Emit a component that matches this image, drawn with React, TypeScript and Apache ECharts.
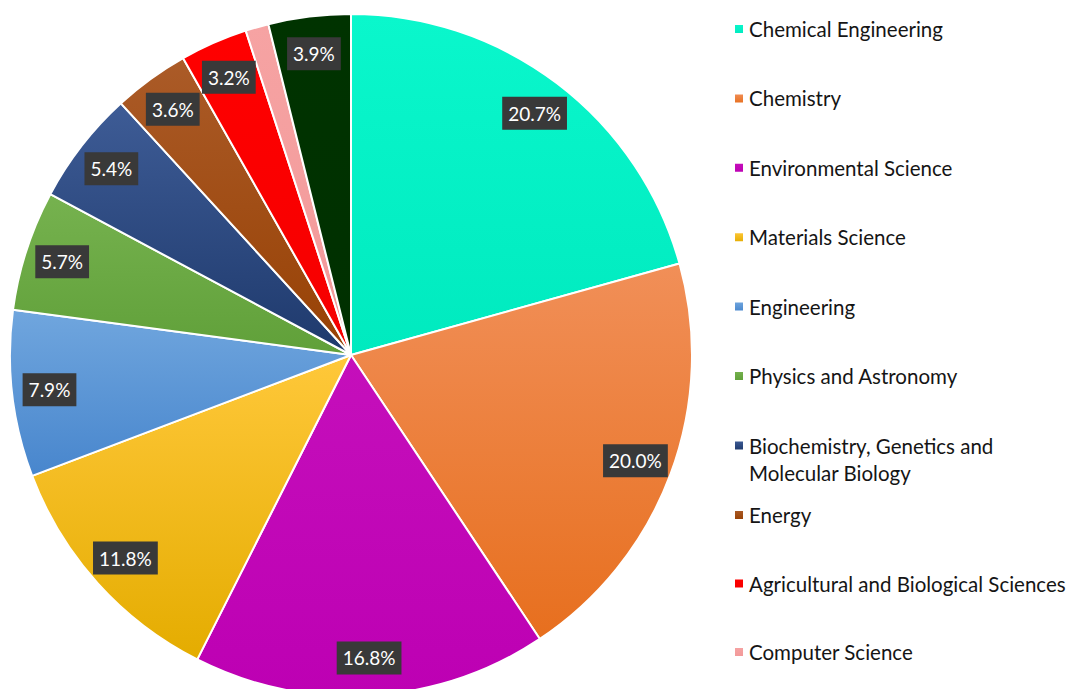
import React, { useEffect, useRef } from "react";
import * as echarts from "echarts";

const categories = [
  "Chemical Engineering",
  "Chemistry",
  "Environmental Science",
  "Materials Science",
  "Engineering",
  "Physics and Astronomy",
  "Biochemistry, Genetics and Molecular Biology",
  "Energy",
  "Agricultural and Biological Sciences",
  "Computer Science",
  "Others",
];
const values = [20.7, 20.0, 16.8, 11.8, 7.9, 5.7, 5.4, 3.6, 3.2, 1.1, 3.9];
const topColors = [
  "#0af7cc", "#f18f58", "#c50fbb", "#ffc83a", "#70a6de", "#76b24f",
  "#3e5c96", "#ab5b28", "#ff0000", "#f6a3a3", "#003300",
];
const bottomColors = [
  "#00eabf", "#e76f1e", "#bd00b3", "#e4ac00", "#4886cd", "#60a039",
  "#1e396c", "#974104", "#f50000", "#f29999", "#003000",
];
const legendA = categories.slice(0, 6);
const legendB = [categories[6]];
const legendC = categories.slice(7, 10);

export default function App() {
  const ref = useRef<HTMLDivElement>(null);
  useEffect(() => {
    document.body.style.margin = "0";
    const chart = echarts.init(ref.current!, undefined, { renderer: "svg" });
    const data = categories.map((name, i) => ({
      name,
      value: values[i],
      itemStyle: {
        color: new echarts.graphic.LinearGradient(0, 0, 0, 1, [
          { offset: 0, color: topColors[i] },
          { offset: 1, color: bottomColors[i] },
        ]),
      },
    }));
    const labelData = categories.map((name, i) => ({ name, value: values[i] }));
    const legendBase = {
      orient: "vertical" as const,
      left: 733,
      padding: 0,
      itemWidth: 10,
      itemHeight: 10,
      itemGap: 42.4,
      icon: "rect",
      textStyle: {
        fontFamily: "Lato",
        fontSize: 20.5,
        lineHeight: 27,
        color: "#151515",
        padding: [0, 0, 0, 0],
      },
      selectedMode: false,
    };
    chart.setOption({
      animation: false,
      backgroundColor: "#ffffff",
      legend: [
        { ...legendBase, top: 15.5, data: legendA },
        {
          ...legendBase,
          top: 405,
          data: legendB,
          formatter: () => "\nBiochemistry, Genetics and\nMolecular Biology",
        },
        { ...legendBase, top: 501.5, itemGap: 41.5, data: legendC },
      ],
      series: [
        {
          type: "pie",
          center: [351, 355],
          radius: [0, 341],
          startAngle: 90,
          clockwise: true,
          silent: true,
          label: { show: false },
          labelLine: { show: false },
          itemStyle: { borderColor: "#ffffff", borderWidth: 2 },
          data,
        },
        {
          type: "pie",
          center: [351, 355],
          radius: [260, 341],
          startAngle: 90,
          clockwise: true,
          silent: true,
          itemStyle: { color: "rgba(0,0,0,0)", borderWidth: 0 },
          label: {
            show: true,
            position: "inside",
            formatter: (p: any) => p.value.toFixed(1) + "%",
            fontFamily: "Lato",
            fontSize: 19,
            color: "#ffffff",
            backgroundColor: "#393939",
            padding: [8, 6, 6, 6],
          },
          labelLine: { show: false },
          data: labelData,
        },
      ],
    });
    return () => chart.dispose();
  }, []);
  return <div ref={ref} style={{ width: 1071, height: 689 }} />;
}
